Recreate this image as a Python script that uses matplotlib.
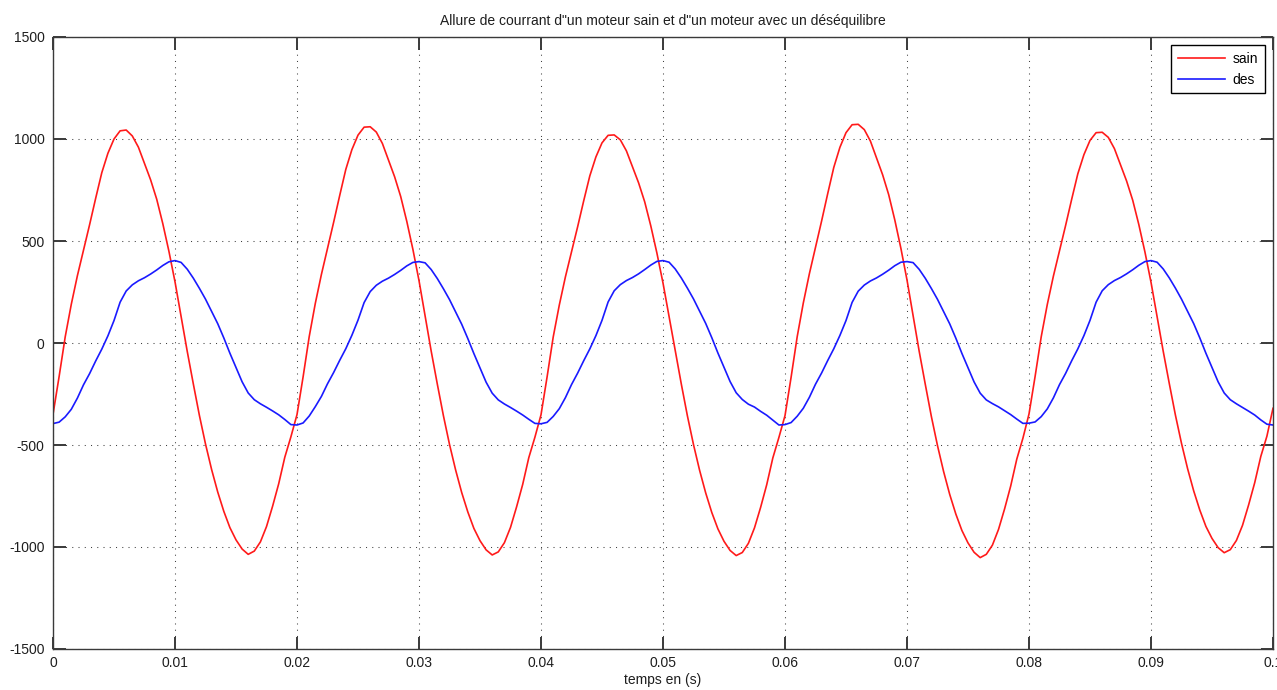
import numpy as np
import matplotlib
matplotlib.use("Agg")
import matplotlib.pyplot as plt

# Motor current traces, sampled every 0.5 ms over 0.1 s (five 20 ms cycles)
sample_period = 0.0005

sain_c1 = [-350, -165, 30, 190, 330, 455, 580, 710, 835, 930, 1000, 1040, 1044, 1015, 960, 880, 800, 705, 585, 450,
           300, 130, -40, -200, -355, -495, -620, -730, -825, -905, -965, -1010, -1036, -1020, -975, -900, -800, -690, -560, -460]
sain_c2 = [-351, -166, 31, 194, 336, 464, 591, 723, 851, 948, 1019, 1058, 1060, 1034, 978, 897, 815, 718, 596, 459,
           306, 132, -40, -201, -356, -497, -622, -733, -828, -909, -969, -1014, -1039, -1024, -979, -904, -803, -693, -562, -462]
sain_c3 = [-352, -166, 29, 186, 324, 446, 569, 697, 819, 912, 981, 1018, 1020, 996, 942, 863, 785, 692, 574, 441,
           294, 128, -40, -201, -357, -498, -624, -735, -831, -911, -972, -1017, -1042, -1027, -982, -906, -806, -695, -564, -463]
sain_c4 = [-356, -168, 31, 196, 340, 469, 598, 732, 861, 959, 1031, 1070, 1072, 1046, 990, 907, 825, 727, 603, 464,
           309, 134, -41, -203, -361, -503, -630, -742, -838, -919, -980, -1026, -1052, -1036, -991, -914, -813, -701, -569, -467]
sain_c5 = [-348, -164, 30, 189, 328, 452, 576, 705, 829, 923, 993, 1031, 1033, 1008, 953, 874, 794, 700, 581, 447,
           298, 129, -40, -199, -353, -492, -616, -725, -819, -899, -958, -1003, -1028, -1013, -968, -894, -794, -685, -556, -457]
sain_end = [-320]

des_c1 = [-395, -388, -362, -325, -270, -205, -150, -88, -30, 35, 110, 200, 255, 285, 305, 320, 338, 358, 380, 398,
          404, 395, 362, 318, 268, 215, 155, 95, 25, -50, -120, -190, -245, -278, -298, -315, -333, -352, -375, -400]
des_c2 = [-402, -392, -358, -312, -262, -200, -145, -85, -28, 38, 112, 198, 252, 283, 303, 318, 336, 356, 378, 395,
          399, 393, 360, 316, 266, 213, 152, 92, 22, -52, -122, -192, -246, -279, -299, -316, -334, -353, -374, -394]
des_c3 = [-396, -389, -360, -322, -268, -204, -148, -87, -29, 36, 111, 201, 256, 286, 306, 321, 339, 360, 382, 400,
          404, 396, 363, 319, 269, 216, 156, 96, 26, -49, -119, -189, -244, -277, -300, -314, -335, -354, -378, -402]
des_c4 = [-400, -390, -359, -320, -266, -202, -147, -86, -28, 37, 110, 199, 254, 284, 304, 319, 337, 357, 379, 396,
          399, 394, 361, 317, 267, 214, 154, 94, 24, -51, -121, -191, -246, -279, -297, -313, -332, -351, -373, -394]
des_c5 = [-393, -387, -361, -323, -269, -204, -149, -87, -29, 36, 111, 200, 256, 286, 306, 321, 339, 359, 381, 399,
          404, 396, 363, 319, 269, 215, 155, 95, 25, -50, -120, -190, -245, -278, -298, -316, -334, -353, -377, -398]
des_end = [-402]

sain = np.array(sain_c1 + sain_c2 + sain_c3 + sain_c4 + sain_c5 + sain_end, dtype=float)
des = np.array(des_c1 + des_c2 + des_c3 + des_c4 + des_c5 + des_end, dtype=float)
t = np.arange(len(sain)) * sample_period

x_ticks = [0, 0.01, 0.02, 0.03, 0.04, 0.05, 0.06, 0.07, 0.08, 0.09, 0.1]
x_tick_labels = ["0", "0.01", "0.02", "0.03", "0.04", "0.05", "0.06", "0.07", "0.08", "0.09", "0.1"]
y_ticks = [-1500, -1000, -500, 0, 500, 1000, 1500]
y_tick_labels = ["-1500", "-1000", "-500", "0", "500", "1000", "1500"]

plt.rcParams["font.family"] = ["Liberation Sans", "DejaVu Sans"]
plt.rcParams["font.size"] = 10

fig = plt.figure(figsize=(12.77, 6.90), dpi=100, facecolor="white")
ax = fig.add_axes([53 / 1277, 1 - 649 / 690, 1220 / 1277, 612 / 690])

ax.plot(t, sain, color="#ff1a1a", lw=1.2, label="sain", solid_joinstyle="round")
ax.plot(t, des, color="#1a1aff", lw=1.2, label="des", solid_joinstyle="round")

ax.set_xlim(0, 0.1)
ax.set_ylim(-1500, 1500)
ax.set_xticks(x_ticks)
ax.set_xticklabels(x_tick_labels)
ax.set_yticks(y_ticks)
ax.set_yticklabels(y_tick_labels)

axis_color = "#3a3a3a"
for sp in ax.spines.values():
    sp.set_color(axis_color)
    sp.set_linewidth(1.0)
ax.tick_params(direction="in", top=True, right=True, length=9, width=1.4,
               color=axis_color, labelcolor="#1e1e1e", labelsize=10)
ax.tick_params(axis="x", pad=5)
ax.tick_params(axis="y", pad=6)

ax.grid(True, color="#404040", linewidth=0.75, linestyle=(0, (1, 5)))
ax.set_axisbelow(True)

ax.set_title('Allure de courrant d"un moteur sain et d"un moteur avec un déséquilibre',
             fontsize=10, color="#1e1e1e", pad=9)
ax.set_xlabel("temps en (s)", fontsize=10, color="#1e1e1e", labelpad=2)

leg = ax.legend(loc="upper right", fontsize=10, frameon=True, fancybox=False, framealpha=1,
                edgecolor="black", handlelength=3.4, handletextpad=0.5, labelspacing=0.45,
                borderpad=0.5, borderaxespad=0.6)
leg.get_frame().set_linewidth(1.0)

fig.savefig("out.png", dpi=100, facecolor="white")
